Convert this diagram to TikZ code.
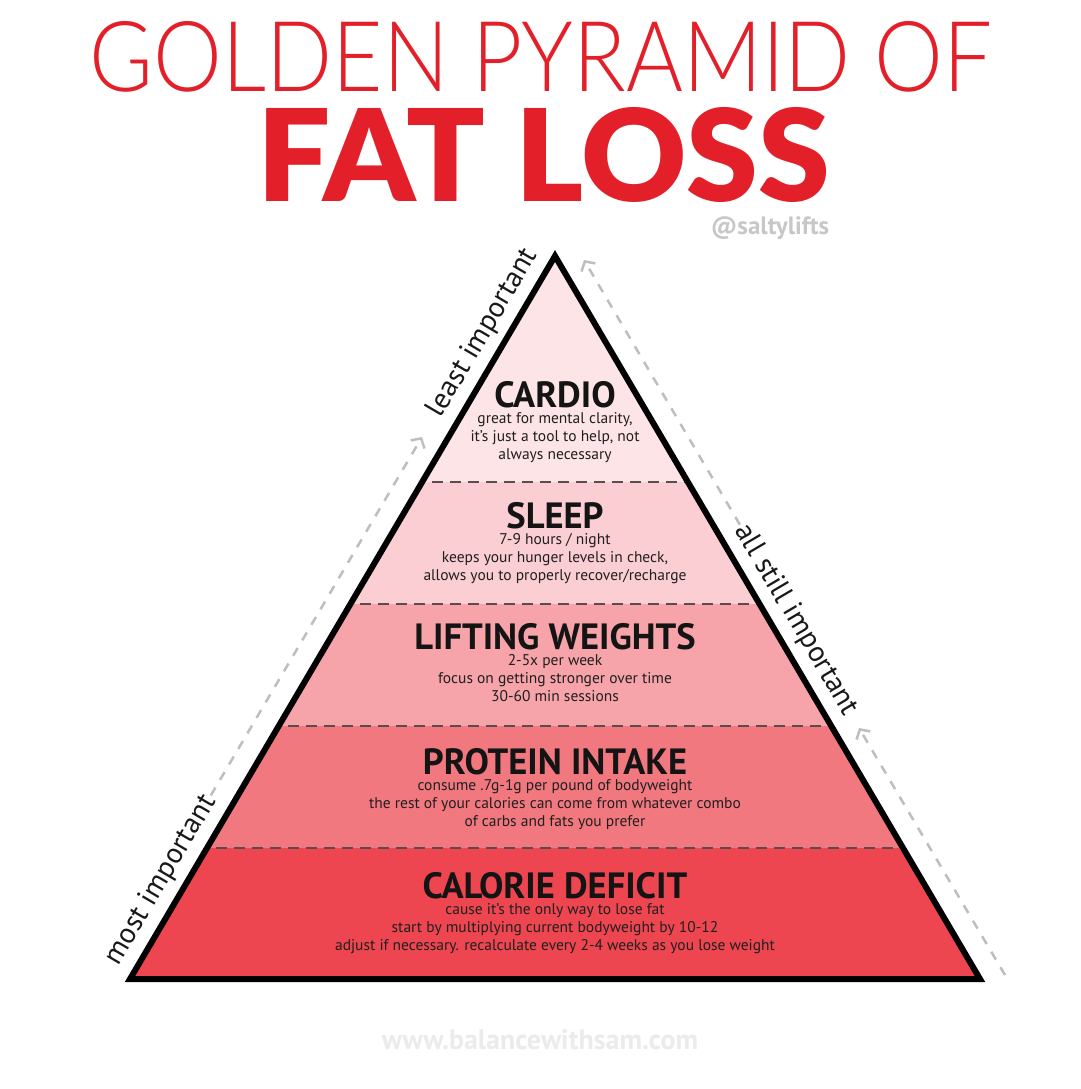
\documentclass[tikz,border=0pt]{standalone}
\usepackage{fontspec}
\setmainfont{PT Sans}
\newfontfamily\titlethin{Lato Light}
\newfontfamily\titleheavy{Lato Black}
\usetikzlibrary{positioning, arrows.meta}

\definecolor{titlered}{HTML}{E3202A}
\definecolor{bandA}{HTML}{FDE4E6}
\definecolor{bandB}{HTML}{FACED2}
\definecolor{bandC}{HTML}{F6A4A9}
\definecolor{bandD}{HTML}{F2787F}
\definecolor{bandE}{HTML}{EE4650}
\definecolor{seamgray}{HTML}{5A4C4E}
\definecolor{guidegray}{HTML}{BEBEBE}

\begin{document}
\begin{tikzpicture}[
	x=1pt, y=-1pt,
	% Define styles
	heading/.style={inner sep=0pt, font=\bfseries\fontsize{36.5}{36.5}\selectfont, text=black!92},
	note/.style={inner sep=0pt, align=center, font=\fontsize{15.5}{18}\selectfont, text=black!88},
	seam/.style={seamgray, line width=2.5pt, dash pattern=on 11pt off 7pt},
	guide/.style={guidegray, line width=2.5pt, dash pattern=on 9pt off 9pt},
	guidearrow/.style={guide, -{Straight Barb[length=7pt, width=16pt]}},
	sidelabel/.style={inner sep=2pt, font=\fontsize{29}{29}\selectfont, text=black!90},
	credit/.style={inner sep=0pt, font=\bfseries\fontsize{25}{25}\selectfont}
	]
	
	\fill[white] (0,0) rectangle (1080,1089);
	\useasboundingbox (0,0) rectangle (1080,1089);
	
	% 1. Title
	\node[inner sep=0pt, text=titlered] (title) at (541,57) {\resizebox{902pt}{70pt}{\titlethin GOLDEN PYRAMID OF}};
	\node[inner sep=0pt, text=titlered] (subject) at (544,155) {\resizebox{572pt}{94pt}{\titleheavy FAT LOSS}};
	\node[credit, text=black!22] (handle) at (770,228) {@saltylifts};
	
	% 2. Pyramid bands
	\coordinate (apex) at (555,256);
	\coordinate (bl) at (130,979);
	\coordinate (br) at (980,979);
	
	\begin{scope}
		\clip (apex) -- (br) -- (bl) -- cycle;
		\foreach \top/\bot/\col in {240/482/bandA, 482/604/bandB, 604/726/bandC, 726/848/bandD, 848/990/bandE}
			\fill[\col] (0,\top) rectangle (1080,\bot);
		\foreach \y in {482, 604, 726, 848}
			\draw[seam] (0,\y) -- (1080,\y);
	\end{scope}
	\draw[line width=6pt, line join=miter] (apex) -- (br) -- (bl) -- cycle;
	
	% 3. Band texts
	\node[heading] (cardio) at (555,395) {CARDIO};
	\node[note, below=4pt of cardio] (cardiotext) {great for mental clarity,\\it’s just a tool to help, not\\always necessary};
	
	\node[heading] (sleep) at (555,516) {SLEEP};
	\node[note, below=4pt of sleep] (sleeptext) {7-9 hours / night\\keeps your hunger levels in check,\\allows you to properly recover/recharge};
	
	\node[heading] (lifting) at (555,637) {LIFTING WEIGHTS};
	\node[note, below=4pt of lifting] (liftingtext) {2-5x per week\\focus on getting stronger over time\\30-60 min sessions};
	
	\node[heading] (protein) at (555,762) {PROTEIN INTAKE};
	\node[note, below=4pt of protein] (proteintext) {consume .7g-1g per pound of bodyweight\\the rest of your calories can come from whatever combo\\of carbs and fats you prefer};
	
	\node[heading] (calorie) at (555,886) {CALORIE DEFICIT};
	\node[note, below=4pt of calorie] (calorietext) {cause it’s the only way to lose fat\\start by multiplying current bodyweight by 10-12\\adjust if necessary. recalculate every 2-4 weeks as you lose weight};
	
	% 4. Side guides
	\node[sidelabel, rotate=59.5] (most) at (161,880) {most important};
	\node[sidelabel, rotate=59.5] (least) at (483,333) {least important};
	\node[sidelabel, rotate=-59.5] (still) at (796,620) {all still important};
	
	\coordinate (lefttip) at (422,437);
	\coordinate (toptip) at (584,260);
	\coordinate (rightfoot) at (1005,975);
	\coordinate (righttip) at (859,728);
	
	\draw[guidearrow] (most.east) -- (lefttip);
	\draw[guidearrow] (still.west) -- (toptip);
	\draw[guidearrow] (rightfoot) -- (righttip);
	
	% Footer
	\node[credit, font=\bfseries\fontsize{28}{28}\selectfont, text=black!8] (site) at (540,1040) {www.balancewithsam.com};
\end{tikzpicture}
\end{document}
